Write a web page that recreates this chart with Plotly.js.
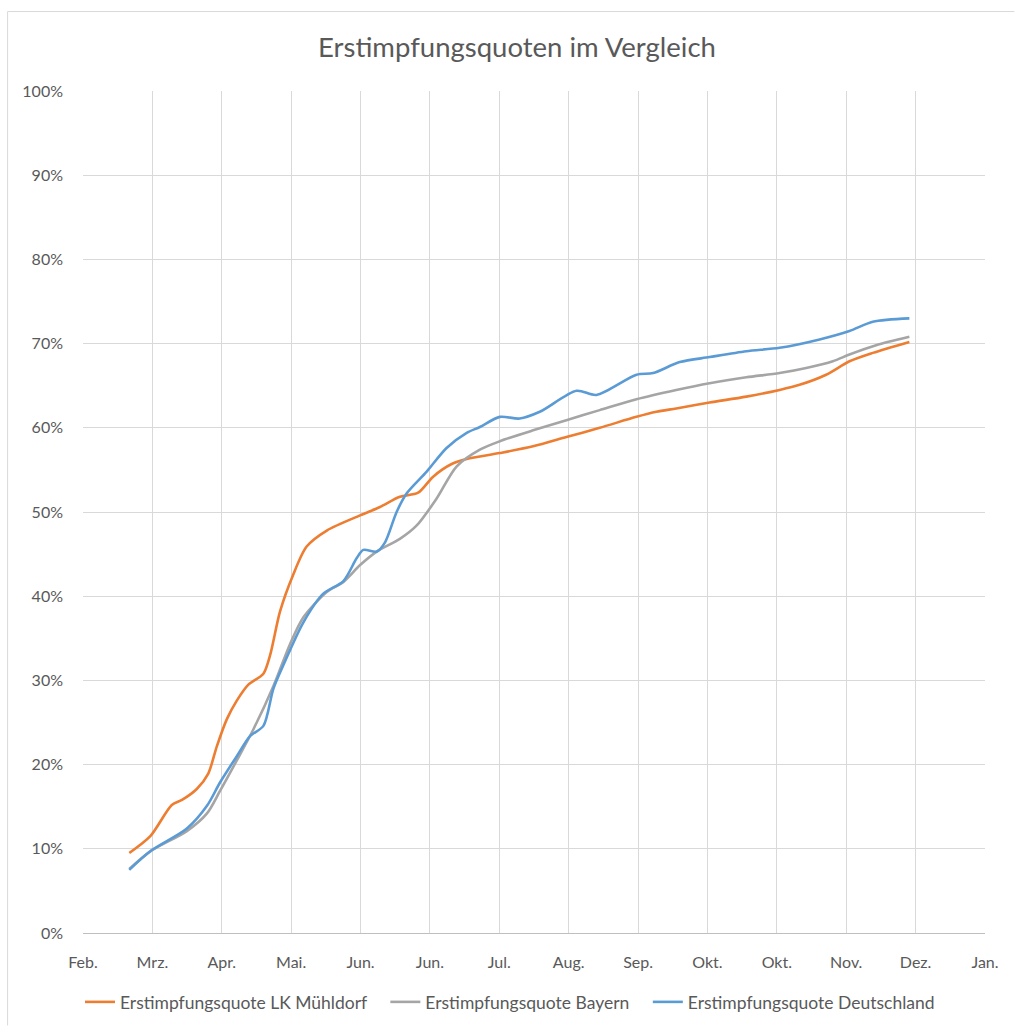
<!DOCTYPE html>
<html>
<head>
<meta charset="utf-8">
<script src="https://cdn.plot.ly/plotly-3.0.1.min.js"></script>
<style>
html,body{margin:0;padding:0;background:#fff;}
#chart{width:1015px;height:1026px;}
</style>
</head>
<body>
<div id="chart"></div>
<script>
// x positions in days from the first axis tick ("Feb."), ticks every 30 days
const tickLabels = ["Feb.","Mrz.","Apr.","Mai.","Jun.","Jun.","Jul.","Aug.","Sep.","Okt.","Okt.","Nov.","Dez.","Jan."];
const yTickVals = [0,10,20,30,40,50,60,70,80,90,100];
const yTickLabels = ["0%","10%","20%","30%","40%","50%","60%","70%","80%","90%","100%"];

const daysLK = [20,29.1,38.4,42.8,49.2,54.1,57.9,62.2,66.5,71.5,78,80.9,85.2,90.8,96.7,105.4,119.8,128.4,137,144.9,151.4,159.4,165.9,180.2,194.6,209,223.4,239.3,247.9,256.5,270.9,286.8,301.2,309.8,321.3,331.4,341.5,357.3];
const quoteLK = [9.5,11.5,15.2,15.8,17.1,18.9,22.2,25.4,27.6,29.5,30.8,33,38.2,42.5,45.9,47.8,49.6,50.6,51.8,52.3,54.2,55.7,56.3,57,57.8,58.9,60,61.3,61.9,62.3,63,63.7,64.5,65.1,66.3,67.9,68.9,70.2];

const daysBY = [20,29.1,44.9,53.6,59.3,66.5,73.7,82.3,89.5,95.3,105.4,112.6,119.8,127,137,144.3,152.9,161.5,171.6,180.2,194.6,209,223.4,239.3,256.5,270.9,286.8,301.2,312.7,324.2,331.4,342.9,357.3];
const quoteBY = [7.6,9.7,12.1,14.2,16.9,20.5,24.2,29.3,34.3,37.5,40.5,41.7,43.7,45.3,46.8,48.4,51.6,55.4,57.4,58.4,59.7,60.9,62.1,63.4,64.5,65.3,66,66.5,67.1,67.9,68.7,69.8,70.8];

const daysDE = [20,29.1,44.9,53.6,59.3,66.5,72.3,78,82.3,86.6,95.3,103.9,112.6,118.3,121.2,127,130.6,135.6,139.9,148.6,157.2,165.9,171.6,180.2,188.8,197.5,213.4,222,239.3,246.5,258,270.9,286.8,301.2,318.5,331.4,341.5,357.3];
const quoteDE = [7.5,9.7,12.4,15.1,17.9,21,23.4,24.6,29,31.8,36.9,40.3,41.8,44.5,45.5,45.3,46.4,50,52.2,54.8,57.6,59.4,60.1,61.3,61.1,61.9,64.4,63.9,66.3,66.5,67.8,68.4,69.1,69.5,70.5,71.5,72.6,73];

const seriesNames = ["Erstimpfungsquote LK Mühldorf","Erstimpfungsquote Bayern","Erstimpfungsquote Deutschland"];
const colors = ["#ED7D31","#A5A5A5","#5B9BD5"];

const tickVals = tickLabels.map((_, i) => i * 30);
const pad = "\u00a0\u00a0\u00a0";

const mk = (x, y, i) => ({
  x: x, y: y, name: seriesNames[i] + (i < 2 ? pad : ""), type: "scatter", mode: "lines",
  line: {color: colors[i], width: 2.6, shape: "spline", smoothing: 0.8},
  hoverinfo: "skip"
});

const data = [mk(daysLK, quoteLK, 0), mk(daysBY, quoteBY, 1), mk(daysDE, quoteDE, 2)];

const fontFam = "Lato, 'Open Sans', sans-serif";
const L = 82.5, R = 29.5, T = 91, B = 92.5;
const pw = 1015 - L - R, ph = 1026 - T - B;

const layout = {
  width: 1015, height: 1026,
  margin: {l: L, r: R, t: T, b: B, pad: 0, autoexpand: false},
  paper_bgcolor: "#ffffff", plot_bgcolor: "#ffffff",
  font: {family: fontFam, color: "#595959", size: 16},
  title: {text: "Erstimpfungsquoten im Vergleich", font: {family: fontFam, size: 27.5, color: "#595959"},
          x: 517/1015, xanchor: "center", xref: "container", y: 1 - 47/1026, yanchor: "middle", yref: "container"},
  showlegend: true,
  legend: {orientation: "h", xref: "container", yref: "container", x: 510/1015, xanchor: "center",
           y: (1026 - 1002) / 1026, yanchor: "middle",
           font: {family: fontFam, size: 17.5, color: "#595959"}, bgcolor: "rgba(0,0,0,0)"},
  xaxis: {
    range: [0, 390], tickmode: "array", tickvals: tickVals, ticktext: tickLabels,
    showgrid: true, gridcolor: "#D9D9D9", gridwidth: 1,
    showline: true, linecolor: "#BFBFBF", linewidth: 1, zeroline: false,
    ticks: "", ticklabelstandoff: 15, tickfont: {family: fontFam, size: 16, color: "#595959"},
    fixedrange: true, automargin: false
  },
  yaxis: {
    range: [0, 100], tickmode: "array", tickvals: yTickVals, ticktext: yTickLabels,
    showgrid: true, gridcolor: "#D9D9D9", gridwidth: 1,
    zeroline: false, showline: false, ticks: "", ticklabelstandoff: 19,
    tickfont: {family: fontFam, size: 16, color: "#595959"}, fixedrange: true, automargin: false
  },
  shapes: [
    {type: "line", xref: "paper", yref: "paper", x0: (7 - L)/pw, x1: (1015 - L)/pw, y0: 1 + (T - 11.5)/ph, y1: 1 + (T - 11.5)/ph,
     line: {color: "#D9D9D9", width: 1}},
    {type: "line", xref: "paper", yref: "paper", x0: (7 - L)/pw, x1: (7 - L)/pw, y0: 1 + (T - 11.5)/ph, y1: -(1026 - 933.5)/ph,
     line: {color: "#D9D9D9", width: 1}}
  ]
};

Plotly.newPlot("chart", data, layout, {staticPlot: true, displayModeBar: false});
</script>
</body>
</html>
